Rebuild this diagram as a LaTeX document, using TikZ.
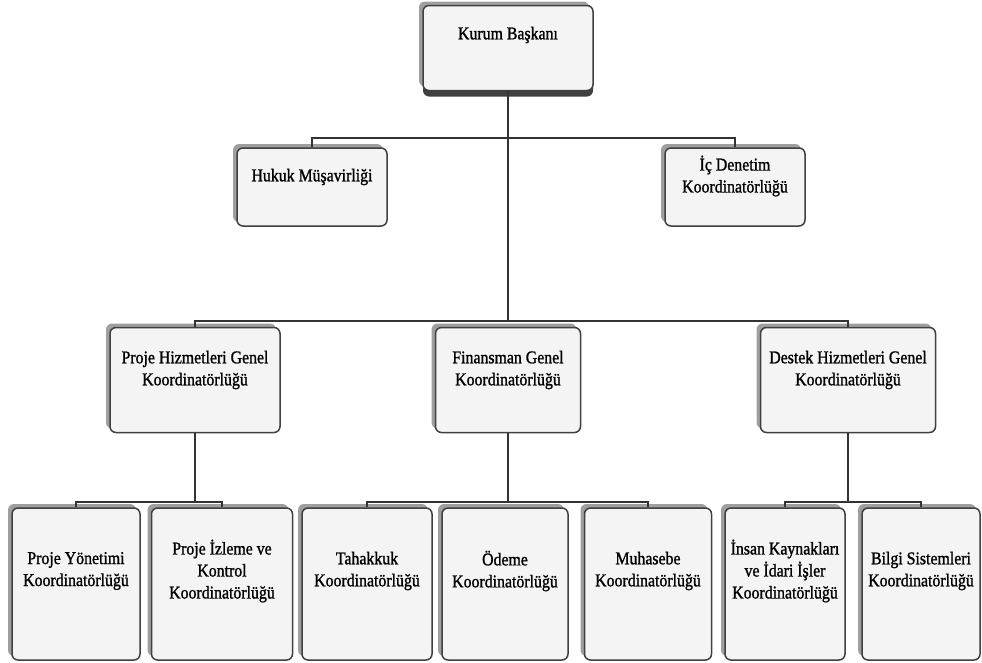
\documentclass[tikz,border=0pt]{standalone}
\usepackage{fontspec}
\setmainfont{Liberation Serif}[FakeStretch=0.88, FakeBold=1.2]
\usetikzlibrary{shadows}
\tikzset{
	birim/.style={draw=gray!50!black, line width=1.5pt, fill=gray!9, rounded corners=6pt,
		general shadow={shadow xshift=-4pt, shadow yshift=4pt, fill=gray!75}},
	yazi/.style={align=center, font=\fontsize{18}{22}\selectfont, inner sep=0pt},
	hat/.style={draw=gray!40!black, line width=1.5pt},
}

\begin{document}
\begin{tikzpicture}[x=1pt, y=-1pt]
	\useasboundingbox (0,0) rectangle (982,662);
	\coordinate (L2) at (0,138);
	\coordinate (L3) at (0,321);
	\coordinate (L4) at (0,502);
	\node[birim, minimum width=170pt, minimum height=85pt, general shadow={shadow yshift=-6pt, fill=gray!50!black}] (KB) at (508,48) {};
	\node[birim, minimum width=150pt, minimum height=78pt] (HM) at (312,187) {};
	\node[birim, minimum width=140pt, minimum height=78pt] (ID) at (735,187) {};
	\node[birim, minimum width=170pt, minimum height=105pt] (PH) at (195,380) {};
	\node[birim, minimum width=145pt, minimum height=105pt] (FG) at (508,380) {};
	\node[birim, minimum width=175pt, minimum height=105pt] (DH) at (848,380) {};
	\node[birim, minimum width=128pt, minimum height=152pt] (PY) at (76,584) {};
	\node[birim, minimum width=141pt, minimum height=152pt] (PI) at (222,584) {};
	\node[birim, minimum width=130pt, minimum height=152pt] (TK) at (367,584) {};
	\node[birim, minimum width=126pt, minimum height=152pt] (OD) at (505,584) {};
	\node[birim, minimum width=127pt, minimum height=152pt] (MH) at (648,584) {};
	\node[birim, minimum width=120pt, minimum height=152pt] (IK) at (785,584) {};
	\node[birim, minimum width=118pt, minimum height=152pt] (BS) at (921,584) {};
	\node[yazi] (KBt) at ([yshift=13pt]KB.center) {Kurum Başkanı};
	\node[yazi] (HMt) at ([yshift=10pt]HM.center) {Hukuk Müşavirliği};
	\node[yazi] (IDt) at ([yshift=11pt]ID.center) {İç Denetim\\Koordinatörlüğü};
	\node[yazi] (PHt) at ([yshift=10pt]PH.center) {Proje Hizmetleri Genel\\Koordinatörlüğü};
	\node[yazi] (FGt) at ([yshift=10pt]FG.center) {Finansman Genel\\Koordinatörlüğü};
	\node[yazi] (DHt) at ([yshift=10pt]DH.center) {Destek Hizmetleri Genel\\Koordinatörlüğü};
	\node[yazi] (PYt) at ([yshift=13pt]PY.center) {Proje Yönetimi\\Koordinatörlüğü};
	\node[yazi] (PIt) at ([yshift=13pt]PI.center) {Proje İzleme ve\\Kontrol\\Koordinatörlüğü};
	\node[yazi] (TKt) at ([yshift=13pt]TK.center) {Tahakkuk\\Koordinatörlüğü};
	\node[yazi] (ODt) at ([yshift=13pt]OD.center) {Ödeme\\Koordinatörlüğü};
	\node[yazi] (MHt) at ([yshift=13pt]MH.center) {Muhasebe\\Koordinatörlüğü};
	\node[yazi] (IKt) at ([yshift=13pt]IK.center) {İnsan Kaynakları\\ve İdari İşler\\Koordinatörlüğü};
	\node[yazi] (BSt) at ([yshift=13pt]BS.center) {Bilgi Sistemleri\\Koordinatörlüğü};
	\draw[hat] (KB.south) -- (KB.south |- L3);
	\draw[hat] (HM.north) -- (HM.north |- L2) -- (ID.north |- L2) -- (ID.north);
	\draw[hat] (PH.north) -- (PH.north |- L3) -- (DH.north |- L3) -- (DH.north);
	\draw[hat] (PH.south) -- (PH.south |- L4);
	\draw[hat] (FG.south) -- (FG.south |- L4);
	\draw[hat] (DH.south) -- (DH.south |- L4);
	\draw[hat] (PY.north) -- (PY.north |- L4) -- (PI.north |- L4) -- (PI.north);
	\draw[hat] (TK.north) -- (TK.north |- L4) -- (MH.north |- L4) -- (MH.north);
	\draw[hat] (IK.north) -- (IK.north |- L4) -- (BS.north |- L4) -- (BS.north);
\end{tikzpicture}
\end{document}
